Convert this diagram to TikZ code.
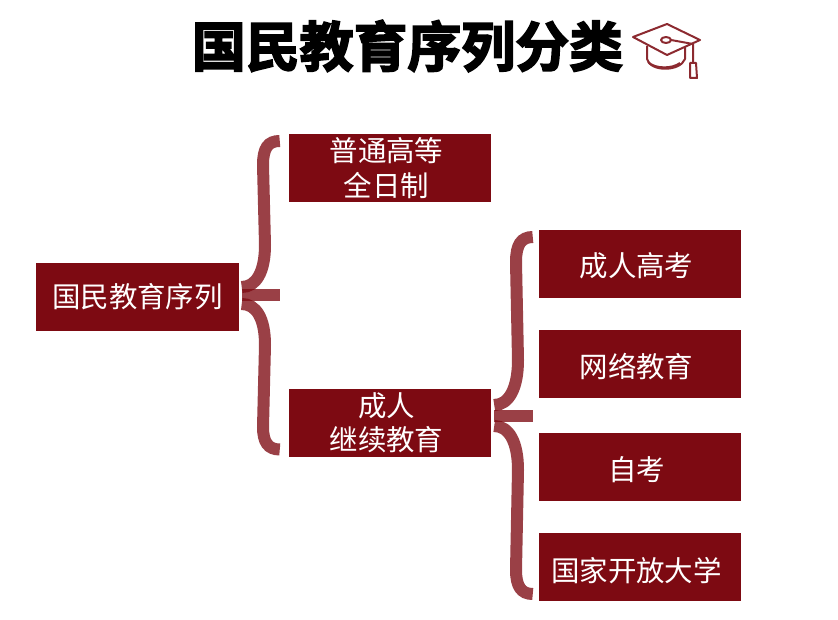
\documentclass[tikz,border=0pt]{standalone}
\usepackage{fontspec}
\setmainfont{Noto Sans CJK SC}
\newfontfamily\titlefont[FakeBold=3.2]{Noto Sans CJK SC Bold}
\usetikzlibrary{calc}
\definecolor{boxred}{HTML}{7D0A12}
\definecolor{hatred}{HTML}{8C2A30}
\newcommand{\nudged}[2][0pt]{\hspace*{-6pt}\raisebox{#1}[0.8em][0.2em]{#2}}
\tikzset{
    itembox/.style={fill=boxred, text=white, minimum width=6.06cm, minimum height=2.04cm, align=center, inner sep=0pt, font=\fontsize{24.3}{30}\selectfont},
    bracket/.style={draw=boxred, opacity=0.78, line width=0.36cm},
    hatline/.style={draw=hatred, line width=0.06cm, line join=round}
}

\begin{document}
\begin{tikzpicture}[x=0.03cm, y=-0.03cm]
    \useasboundingbox (0,0) rectangle (838,620);

    % Title with cap
    \node[font=\titlefont\fontsize{46}{46}\selectfont, text=black, inner sep=0pt] (title) at (407.5,46) {国民教育序列分类};
    \draw[hatline] (633,37) -- (667,24) -- (700,40) -- (667,55) -- cycle;
    \draw[hatline] (647,46) -- (647,59) .. controls (650,72) and (680,72) .. (685,59) -- (685,47);
    \draw[hatline] (648,62) .. controls (655,69) and (672,69) .. (680,63);
    \draw[hatline, fill=white] (666,40) ellipse (5 and 3);
    \draw[hatline] (671,40) -- (693,44) -- (693,63);
    \draw[hatline] (690,63) -- (696,63) -- (697,78) -- (690,78) -- cycle;

    % Boxes
    \node[itembox] (root) at (137.5,297) {国民教育序列};
    \node[itembox] (fulltime) at (390,168) {\nudged[-2.5pt]{普通高等}\\\nudged[-2pt]{全日制}};
    \node[itembox] (adult) at (390,422.5) {\nudged[-2.5pt]{成人}\\\nudged[-2pt]{继续教育}};
    \node[itembox] (exam) at (640,264) {\nudged[-3.5pt]{成人高考}};
    \node[itembox] (online) at (640,364) {\nudged[-4.5pt]{网络教育}};
    \node[itembox] (self) at (640,467) {\nudged[-4pt]{自考}};
    \node[itembox] (open) at (640,567) {\nudged[-5.5pt]{国家开放大学}};

    % Bracket from root
    \draw[bracket] ($(root.east)+(3,-10)$) .. controls (256,287) and (265,272) .. (265,245) -- (263,165) .. controls (263,148) and (268,141) .. ($(fulltime.west)+(-9,-27)$);
    \draw[bracket] (root.east) ++(3,-2) -- ($(fulltime.west |- root.east)+(-9,-2)$);
    \draw[bracket] ($(root.east)+(3,7)$) .. controls (256,304) and (265,318) .. (265,345) -- (263,427) .. controls (263,442) and (268,449.5) .. ($(adult.west)+(-9,27)$);

    % Bracket from adult
    \draw[bracket] ($(adult.east)+(3,-17.5)$) .. controls (509,405) and (518,388) .. (518,360) -- (516,262) .. controls (516,245) and (521,237) .. ($(exam.west)+(-6,-27)$);
    \draw[bracket] (adult.east) ++(3,-6.5) -- ($(exam.west |- adult.east)+(-6,-6.5)$);
    \draw[bracket] ($(adult.east)+(3,3.5)$) .. controls (509,426) and (518,442) .. (518,470) -- (516,570) .. controls (516,586) and (521,594) .. ($(open.west)+(-6,27)$);
\end{tikzpicture}
\end{document}
